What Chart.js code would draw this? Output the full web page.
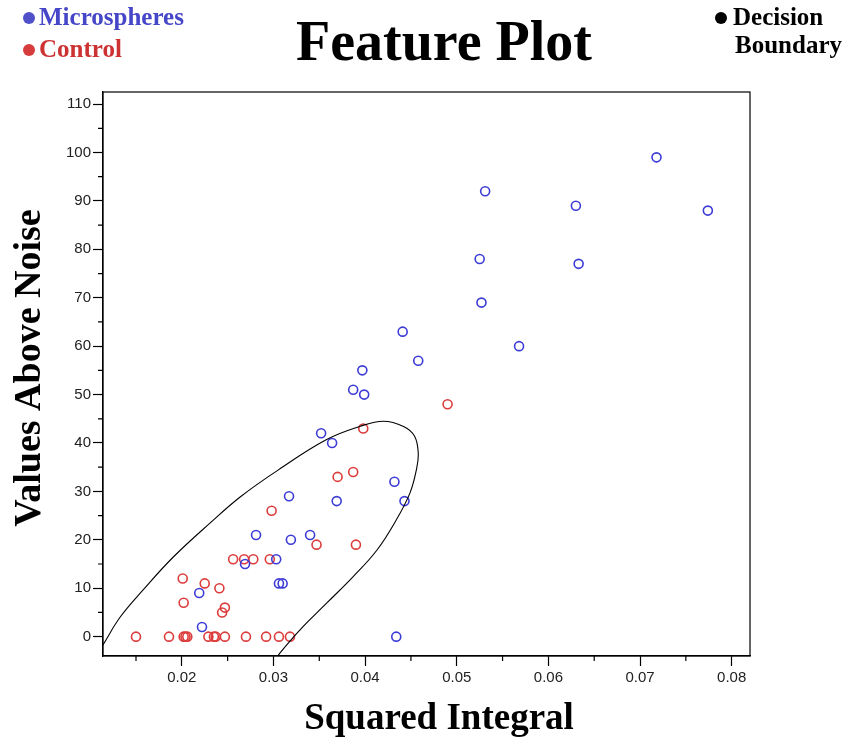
<!DOCTYPE html>
<html>
<head>
<meta charset="utf-8">
<script src="https://cdn.jsdelivr.net/npm/chart.js@4/dist/chart.umd.min.js"></script>
<style>
  html, body { margin: 0; padding: 0; background: #fff; }
  #wrap { width: 848px; height: 745px; position: relative; }
</style>
</head>
<body>
<div id="wrap"><canvas id="graphic"></canvas></div>
<script>
// values
const microX = [0.0718, 0.0531, 0.0630, 0.0774, 0.0525, 0.0633, 0.0527, 0.0441, 0.0568, 0.0458,
  0.0397, 0.0387, 0.0399, 0.0352, 0.0364, 0.0432, 0.0317, 0.0369, 0.0443, 0.0281,
  0.0340, 0.0319, 0.0269, 0.0303, 0.0306, 0.0310, 0.0219, 0.0222, 0.0434];
const microY = [99, 92, 89, 88, 78, 77, 69, 63, 60, 57,
  55, 51, 50, 42, 40, 32, 29, 28, 28, 21,
  21, 20, 15, 16, 11, 11, 9, 2, 0];

const controlX = [0.0490, 0.0398, 0.0387, 0.0370, 0.0298, 0.0347, 0.0390, 0.0256, 0.0268, 0.0278,
  0.0296, 0.0201, 0.0225, 0.0241, 0.0202, 0.0247, 0.0244,
  0.0150, 0.0186, 0.0202, 0.0204, 0.0206, 0.0229, 0.0235, 0.0237, 0.0247, 0.0270, 0.0292, 0.0306, 0.0318];
const controlY = [48, 43, 34, 33, 26, 19, 19, 16, 16, 16,
  16, 12, 11, 10, 7, 6, 5,
  0, 0, 0, 0, 0, 0, 0, 0, 0, 0, 0, 0, 0];

// decision boundary
const boundaryX = [0.0114, 0.0133, 0.0158, 0.0191, 0.0231, 0.0264, 0.0305, 0.0358,
  0.0394, 0.0420, 0.0442, 0.0454, 0.0458, 0.0456, 0.0449, 0.0434, 0.0413, 0.0387,
  0.0358, 0.0329, 0.0307, 0.0302];
const boundaryY = [-1.7, 4.1, 9.7, 16.5, 23.5, 28.9, 34.4, 40.7,
  43.4, 44.5, 43.4, 41.4, 37.9, 34.5, 29.7, 24.1, 17.9, 12.4,
  6.9, 1.4, -3.4, -4.8];

const xTicksMajor = [0.02, 0.03, 0.04, 0.05, 0.06, 0.07, 0.08];
const yTicksMajor = [0, 10, 20, 30, 40, 50, 60, 70, 80, 90, 100, 110];

const blue = "rgb(60,60,215)";
const red = "rgb(220,60,60)";

const toPoints = (xs, ys) => xs.map((x, i) => ({ x, y: ys[i] }));
const isMajorX = (v) => xTicksMajor.some((t) => Math.abs(t - v) < 1e-6);
const isMajorY = (v) => yTicksMajor.some((t) => Math.abs(t - v) < 1e-6);

const serif = "'Liberation Serif', 'Times New Roman', serif";
const sans = "'Liberation Sans', Arial, sans-serif";

const framePlugin = {
  id: "frame",
  afterDraw(chart) {
    const { ctx, chartArea: a, scales } = chart;
    ctx.save();
    ctx.strokeStyle = "#000";
    ctx.lineWidth = 1.2;
    ctx.strokeRect(a.left, a.top, a.right - a.left, a.bottom - a.top);

    // minor ticks
    ctx.beginPath();
    scales.x.ticks.forEach((t) => {
      if (!isMajorX(t.value)) {
        const px = scales.x.getPixelForValue(t.value);
        ctx.moveTo(px, a.bottom);
        ctx.lineTo(px, a.bottom + 5);
      }
    });
    scales.y.ticks.forEach((t) => {
      if (!isMajorY(t.value)) {
        const py = scales.y.getPixelForValue(t.value);
        ctx.moveTo(a.left, py);
        ctx.lineTo(a.left - 5, py);
      }
    });
    ctx.stroke();

    // title
    ctx.fillStyle = "#000";
    ctx.textAlign = "center";
    ctx.textBaseline = "middle";
    ctx.font = "bold 56px " + serif;
    ctx.fillText("Feature Plot", 444, 46);

    // axis titles
    ctx.font = "bold 37px " + serif;
    ctx.fillText("Squared Integral", 439, 719);
    ctx.save();
    ctx.translate(30, 368);
    ctx.rotate(-Math.PI / 2);
    ctx.font = "bold 38px " + serif;
    ctx.fillText("Values Above Noise", 0, 0);
    ctx.restore();

    // legend
    ctx.textAlign = "left";
    ctx.font = "bold 25px " + serif;
    const items = [
      { text: "Microspheres", color: "rgb(70,70,200)", dot: "rgb(80,80,200)", x: 22, y: 18 },
      { text: "Control", color: "rgb(205,50,50)", dot: "rgb(215,60,60)", x: 22, y: 50 },
    ];
    items.forEach((it) => {
      ctx.fillStyle = it.dot;
      ctx.beginPath();
      ctx.arc(it.x + 7, it.y, 6, 0, Math.PI * 2);
      ctx.fill();
      ctx.fillStyle = it.color;
      ctx.fillText(it.text, it.x + 17, it.y + 1);
    });
    ctx.fillStyle = "#000";
    ctx.beginPath();
    ctx.arc(721, 18, 6, 0, Math.PI * 2);
    ctx.fill();
    ctx.fillText("Decision", 733, 19);
    ctx.fillText("Boundary", 735, 47);
    ctx.restore();
  },
};

const config = {
  type: "scatter",
  data: {
    datasets: [
      {
        label: "Decision Boundary",
        data: toPoints(boundaryX, boundaryY),
        showLine: true,
        borderColor: "#000",
        borderWidth: 1.1,
        pointRadius: 0,
        tension: 0.4,
        fill: false,
      },
      {
        label: "Microspheres",
        data: toPoints(microX, microY),
        borderColor: blue,
        backgroundColor: "rgba(0,0,0,0)",
        borderWidth: 1.6,
        pointRadius: 4.5,
      },
      {
        label: "Control",
        data: toPoints(controlX, controlY),
        borderColor: red,
        backgroundColor: "rgba(0,0,0,0)",
        borderWidth: 1.6,
        pointRadius: 4.5,
      },
    ],
  },
  options: {
    responsive: true,
    maintainAspectRatio: false,
    animation: false,
    layout: { padding: { top: 92, right: 98, left: 0, bottom: 0 } },
    plugins: {
      legend: { display: false },
      title: { display: false },
      tooltip: { enabled: false },
    },
    scales: {
      x: {
        type: "linear",
        min: 0.0114,
        max: 0.082,
        afterFit: (scale) => { scale.height = 89; },
        border: { color: "#000", width: 1.2 },
        grid: {
          drawOnChartArea: false,
          tickLength: 10,
          tickWidth: 1.2,
          tickColor: (c) => (c.tick && isMajorX(c.tick.value) ? "#000" : "rgba(0,0,0,0)"),
        },
        ticks: {
          stepSize: 0.005,
          includeBounds: false,
          maxRotation: 0,
          autoSkip: false,
          padding: 3,
          color: "#222",
          font: { family: sans, size: 15 },
          callback: (v) => (isMajorX(v) ? v.toFixed(2) : ""),
        },
      },
      y: {
        type: "linear",
        min: -4,
        max: 112.5,
        afterFit: (scale) => { scale.width = 103; },
        border: { color: "#000", width: 1.2 },
        grid: {
          drawOnChartArea: false,
          tickLength: 10,
          tickWidth: 1.2,
          tickColor: (c) => (c.tick && isMajorY(c.tick.value) ? "#000" : "rgba(0,0,0,0)"),
        },
        ticks: {
          stepSize: 5,
          includeBounds: false,
          autoSkip: false,
          padding: 2,
          color: "#222",
          font: { family: sans, size: 15 },
          callback: (v) => (isMajorY(v) ? String(v) : ""),
        },
      },
    },
  },
  plugins: [framePlugin],
};

const ctx = document.getElementById("graphic").getContext("2d");
const chartInstance = new Chart(ctx, config);
</script>
</body>
</html>
